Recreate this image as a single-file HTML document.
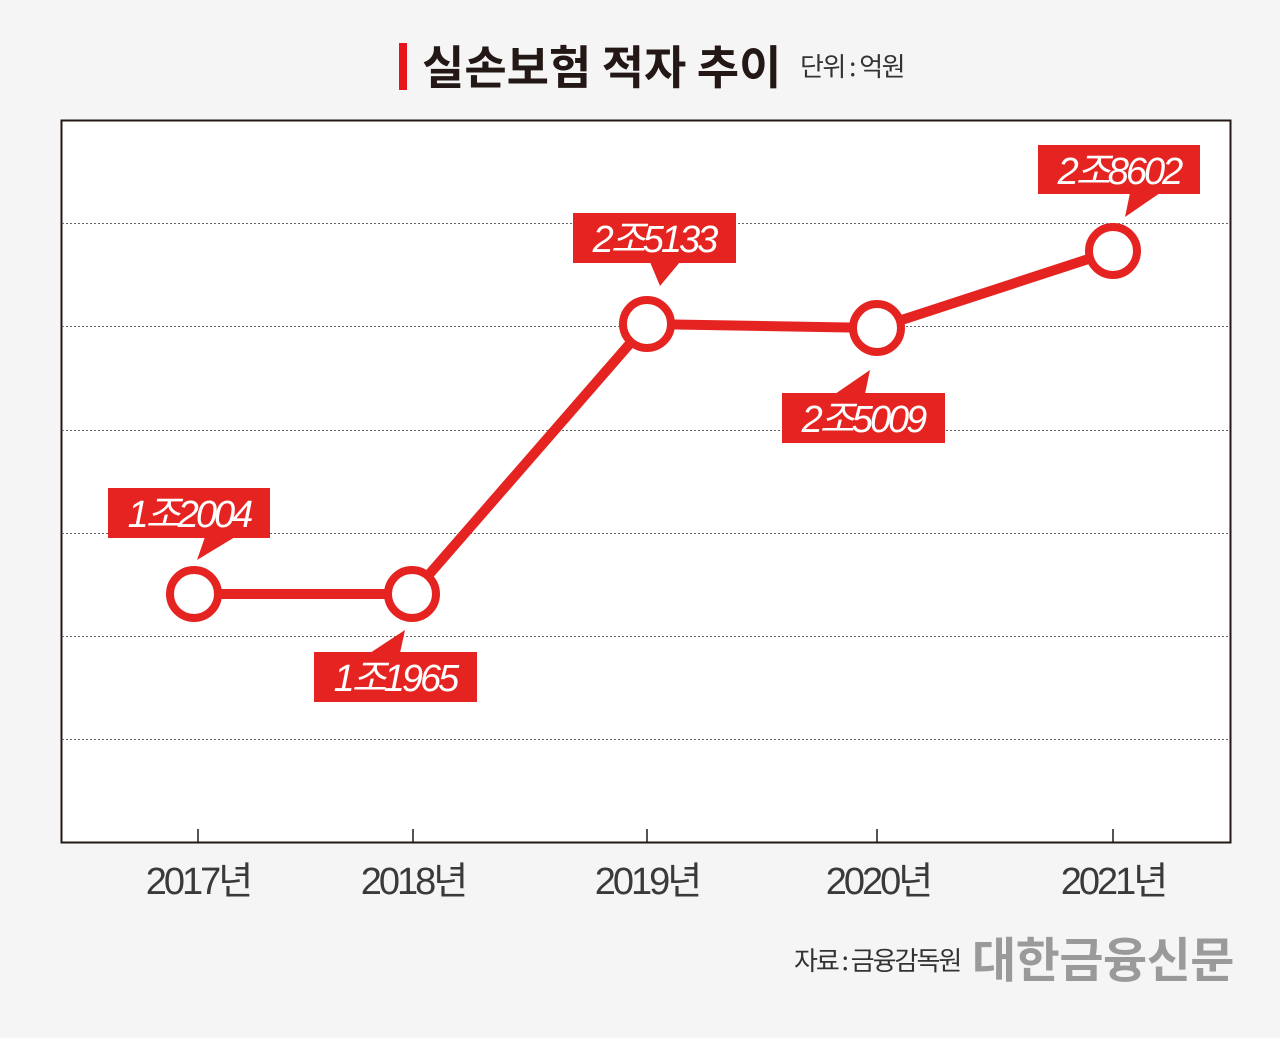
<!DOCTYPE html>
<html><head><meta charset="utf-8"><style>
body{margin:0;background:#f5f5f5;}
svg{display:block;font-family:"Liberation Sans","Noto Sans CJK KR",sans-serif;}
</style></head><body>
<svg width="1280" height="1038" viewBox="0 0 1280 1038" xmlns="http://www.w3.org/2000/svg">
<rect width="1280" height="1038" fill="#f5f5f5"/>
<rect x="399" y="43" width="8" height="47" fill="#e8141b"/>
<text x="422" y="84" font-size="46" font-weight="bold" fill="#231815" font-family="'Noto Sans CJK KR',sans-serif">실손보험 적자 추이</text>
<text x="800" y="76" font-size="26" fill="#333" font-family="'Noto Sans CJK KR',sans-serif" letter-spacing="-1.5">단위 : 억원</text>
<rect x="61.5" y="120.5" width="1169" height="722" fill="#fff" stroke="#231815" stroke-width="2"/>
<g stroke="#666" stroke-width="1" stroke-dasharray="2,2">
<line x1="62" x2="1230" y1="223.5" y2="223.5"/><line x1="62" x2="1230" y1="326.5" y2="326.5"/>
<line x1="62" x2="1230" y1="430.5" y2="430.5"/><line x1="62" x2="1230" y1="533.5" y2="533.5"/>
<line x1="62" x2="1230" y1="636.5" y2="636.5"/><line x1="62" x2="1230" y1="739.5" y2="739.5"/>
</g>
<g stroke="#231815" stroke-width="1.5">
<line x1="198" x2="198" y1="829" y2="843"/><line x1="413" x2="413" y1="829" y2="843"/>
<line x1="647" x2="647" y1="829" y2="843"/><line x1="877" x2="877" y1="829" y2="843"/>
<line x1="1113" x2="1113" y1="829" y2="843"/>
</g>
<polyline points="194,594 412,594 647,324 877,328 1113,251" fill="none" stroke="#e52421" stroke-width="10"/>
<g fill="#fff" stroke="#e52421" stroke-width="8">
<circle cx="194" cy="594" r="24"/><circle cx="412" cy="594" r="24"/>
<circle cx="647" cy="324" r="24"/><circle cx="877" cy="328" r="24"/><circle cx="1113" cy="251" r="24"/>
</g>
<g fill="#e52421">
<rect x="108" y="488" width="162" height="50"/><polygon points="205,537 235,537 197,560"/>
<rect x="314" y="652" width="163" height="50"/><polygon points="370,653 400,653 405,630"/>
<rect x="573" y="213" width="163" height="50"/><polygon points="650,262 680,262 660,286"/>
<rect x="782" y="393" width="163" height="50"/><polygon points="835,394 865,394 870,370"/>
<rect x="1038" y="145" width="162" height="49"/><polygon points="1130,193 1160,193 1125,217"/>
</g>
<g fill="#fff" font-size="38" font-style="italic" text-anchor="middle" letter-spacing="-3">
<text x="189" y="527">1조2004</text>
<text x="395" y="691">1조1965</text>
<text x="654" y="252">2조5133</text>
<text x="863" y="432">2조5009</text>
<text x="1119" y="184">2조8602</text>
</g>
<g fill="#3a3a3a" font-size="38" text-anchor="middle" letter-spacing="-3">
<text x="198" y="894">2017년</text><text x="413" y="894">2018년</text>
<text x="647" y="894">2019년</text><text x="878" y="894">2020년</text><text x="1113" y="894">2021년</text>
</g>
<text x="794" y="970" font-size="26" fill="#333" font-family="'Noto Sans CJK KR',sans-serif" letter-spacing="-2">자료 : 금융감독원</text>
<text x="972" y="977" font-size="48" font-weight="bold" fill="#9a9a9a" font-family="'Noto Sans CJK KR',sans-serif" letter-spacing="-0.5">대한금융신문</text>
</svg>
</body></html>
